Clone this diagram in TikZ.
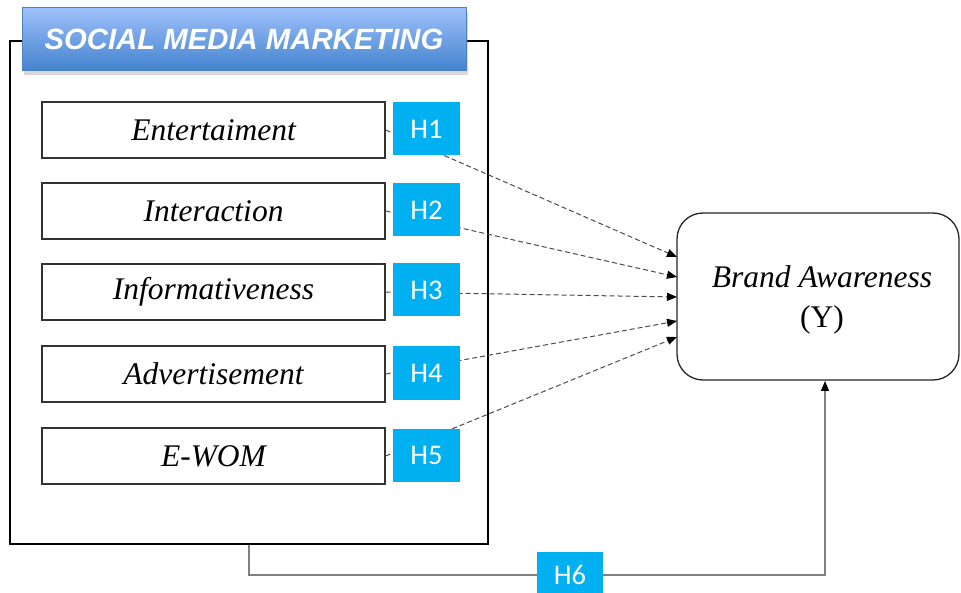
\documentclass[tikz,border=0pt]{standalone}
\usepackage{fontspec}
\setmainfont{Liberation Serif}
\newfontfamily\titlefont{Liberation Sans}
\newfontfamily\hfont{Carlito}
\usetikzlibrary{arrows.meta,shadows}
\definecolor{hblue}{HTML}{00B0F0}
\definecolor{ttop}{RGB}{158,192,250}
\definecolor{tbot}{RGB}{66,130,206}
\definecolor{tborder}{RGB}{79,129,189}
\tikzset{
  varbox/.style={draw=black!80, line width=1.3pt, minimum width=343pt, minimum height=56pt, inner sep=0pt, font=\fontsize{31.5}{36}\selectfont\itshape},
  hbox/.style={fill=hblue, minimum width=67pt, minimum height=53pt, inner sep=0pt, text=white, font=\hfont\fontsize{28.5}{32}\selectfont},
  hyparrow/.style={draw=black!70, line width=1pt, dash pattern=on 5pt off 3pt, -{Triangle[length=10pt,width=8pt,color=black]}},
  conn/.style={draw=black!50, line width=1.3pt},
}
\begin{document}
\begin{tikzpicture}[x=1pt,y=-1pt]
\clip (0,0) rectangle (961,593);
\fill[white] (0,0) rectangle (961,593);
% big frame
\node[draw=black, line width=1.2pt, minimum width=478pt, minimum height=503pt, inner sep=0pt] (smm) at (249,292.5) {};
% title
\node[draw=tborder, line width=1pt, top color=ttop, bottom color=tbot, minimum width=444pt, minimum height=63pt, inner sep=0pt,
  drop shadow={shadow xshift=2pt, shadow yshift=-4pt, opacity=0.3},
  text=white, font=\titlefont\bfseries\itshape\fontsize{29.3}{34}\selectfont] (title) at (244,39.5) {SOCIAL MEDIA MARKETING};
% variable boxes
\node[varbox] (v1) at (213.5,130) {Entertaiment};
\node[varbox] (v2) at (213.5,211) {Interaction};
\node[varbox] (v3) at (213.5,292) {Informativeness};
\node[varbox] (v4) at (213.5,374) {Advertisement};
\node[varbox] (v5) at (213.5,456) {E-WOM};
% brand awareness
\node[draw=black!85, line width=1.3pt, rounded corners=26pt, minimum width=282pt, minimum height=167pt, inner sep=0pt] (ba) at (818,296.5) {};
\node[align=center, font=\fontsize{31.5}{40}\selectfont, inner sep=0pt] (batext) at (822,300) {\textit{Brand Awareness}\\(Y)};
\coordinate (t1) at (677,257);
\coordinate (t2) at (677,277);
\coordinate (t3) at (677,297);
\coordinate (t4) at (677,321);
\coordinate (t5) at (677,337);
\draw[hyparrow] (v1.east) -- (t1);
\draw[hyparrow] (v2.east) -- (t2);
\draw[hyparrow] (v3.east) -- (t3);
\draw[hyparrow] (v4.east) -- (t4);
\draw[hyparrow] (v5.east) -- (t5);
% hypothesis labels
\node[hbox] (h1) at (426.5,129) {H1};
\node[hbox] (h2) at (426.5,210) {H2};
\node[hbox] (h3) at (426.5,290) {H3};
\node[hbox] (h4) at (426.5,373) {H4};
\node[hbox] (h5) at (426.5,455) {H5};
% H6
\node[hbox, minimum width=66pt, minimum height=46pt] (h6) at (570,575) {H6};
\coordinate (bain) at (825,381);
\draw[conn] (smm.south) |- (h6.west);
\draw[conn, -{Triangle[length=10pt,width=8pt,color=black]}] (h6.east) -| (bain);
\end{tikzpicture}
\end{document}
